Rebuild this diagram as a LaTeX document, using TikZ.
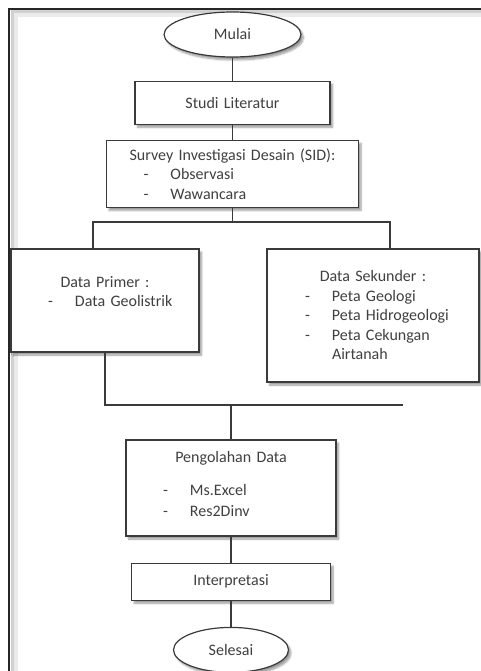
\documentclass[tikz,border=0pt]{standalone}
\usepackage{fontspec}
\setmainfont{Carlito}
\usetikzlibrary{positioning}
\usetikzlibrary{shapes.geometric}
\usetikzlibrary{shadows.blur}
\definecolor{linegray}{HTML}{3A3A3A}
\definecolor{textgray}{HTML}{404040}
\newcommand\mylistline[3]{\makebox[\hsize][l]{\hspace*{#1}\makebox[27pt][l]{#2}#3}}

\begin{document}
\begin{tikzpicture}[
    x=1pt, y=-1pt,
    font=\fontsize{16}{19.5}\selectfont,
    softshade/.style = {
        blur shadow={shadow xshift=2.5pt, shadow yshift=-3pt, shadow blur steps=6, shadow opacity=40}
      },
    stepbox/.style = {
        rectangle,
        draw=linegray,
        line width=1.2pt,
        fill=white,
        inner sep=0pt,
        align=center,
        text=textgray,
        softshade
      },
    terminator/.style = {
        ellipse,
        draw=linegray,
        line width=1.2pt,
        fill=white,
        inner sep=0pt,
        text=textgray,
        softshade
      },
    conn/.style = {
        draw=linegray,
        line width=1.3pt
      },
    ]
    \useasboundingbox (0,0) rectangle (481,671);

    % frame
    \draw [line width=5pt, black!8] (481,15) -- (15,15) -- (15,671);
    \draw [line width=3pt, black!18] (481,12) -- (12,12) -- (12,671);
    \draw [line width=2pt, black!85] (481,9) -- (9,9) -- (9,671);

    \node (mulai) [terminator, minimum width=137pt, minimum height=45pt] at (232.5,34.5) {Mulai};
    \node (studi) [stepbox, text width=195pt, minimum height=43pt, below=23pt of mulai] {Studi Literatur};
    \node (sid) [stepbox, text width=252pt, minimum height=67pt, below=15pt of studi]
        {Survey Investigasi Desain (SID):\\
         \mylistline{37pt}{-}{Observasi}\\
         \mylistline{37pt}{-}{Wawancara}};
    \node (primer) [stepbox, text width=188pt, minimum height=103pt] at (105,300.5)
        {Data Primer :\\
         \mylistline{37pt}{-}{Data Geolistrik}\\[-1.5pt]\mbox{}};
    \node (sekunder) [stepbox, text width=212pt, minimum height=133pt] at (373,315.5)
        {Data Sekunder :\\
         \mylistline{38pt}{-}{Peta Geologi}\\
         \mylistline{38pt}{-}{Peta Hidrogeologi}\\
         \mylistline{38pt}{-}{Peta Cekungan}\\
         \mylistline{38pt}{}{Airtanah}};
    \node (olah) [stepbox, text width=210pt, minimum height=96pt] at (231,488)
        {Pengolahan Data\\[13pt]
         \mylistline{37pt}{-}{Ms.Excel}\\[1.5pt]
         \mylistline{37pt}{-}{Res2Dinv}\\[-11.5pt]\mbox{}};
    \node (interp) [stepbox, text width=199pt, minimum height=37pt, below=26pt of olah] {Interpretasi};
    \node (selesai) [terminator, minimum width=115pt, minimum height=45pt, below=26pt of interp] {Selesai};

    \coordinate (forkL) at (93,222);
    \coordinate (forkR) at (390,222);
    \coordinate (joinR) at (403,405);

    \draw [conn] (mulai) -- (studi);
    \draw [conn] (studi) -- (sid);
    \draw [conn] (sid.south) -- (sid.south |- forkL);
    \draw [conn] (primer.north -| forkL) -- (forkL) -- (forkR) -- (forkR |- sekunder.north);
    \draw [conn] (primer.south) -- (primer.south |- joinR) -- (joinR);
    \draw [conn] (olah.north |- joinR) -- (olah);
    \draw [conn] (olah) -- (interp);
    \draw [conn] (interp) -- (selesai);
  \end{tikzpicture}
\end{document}
